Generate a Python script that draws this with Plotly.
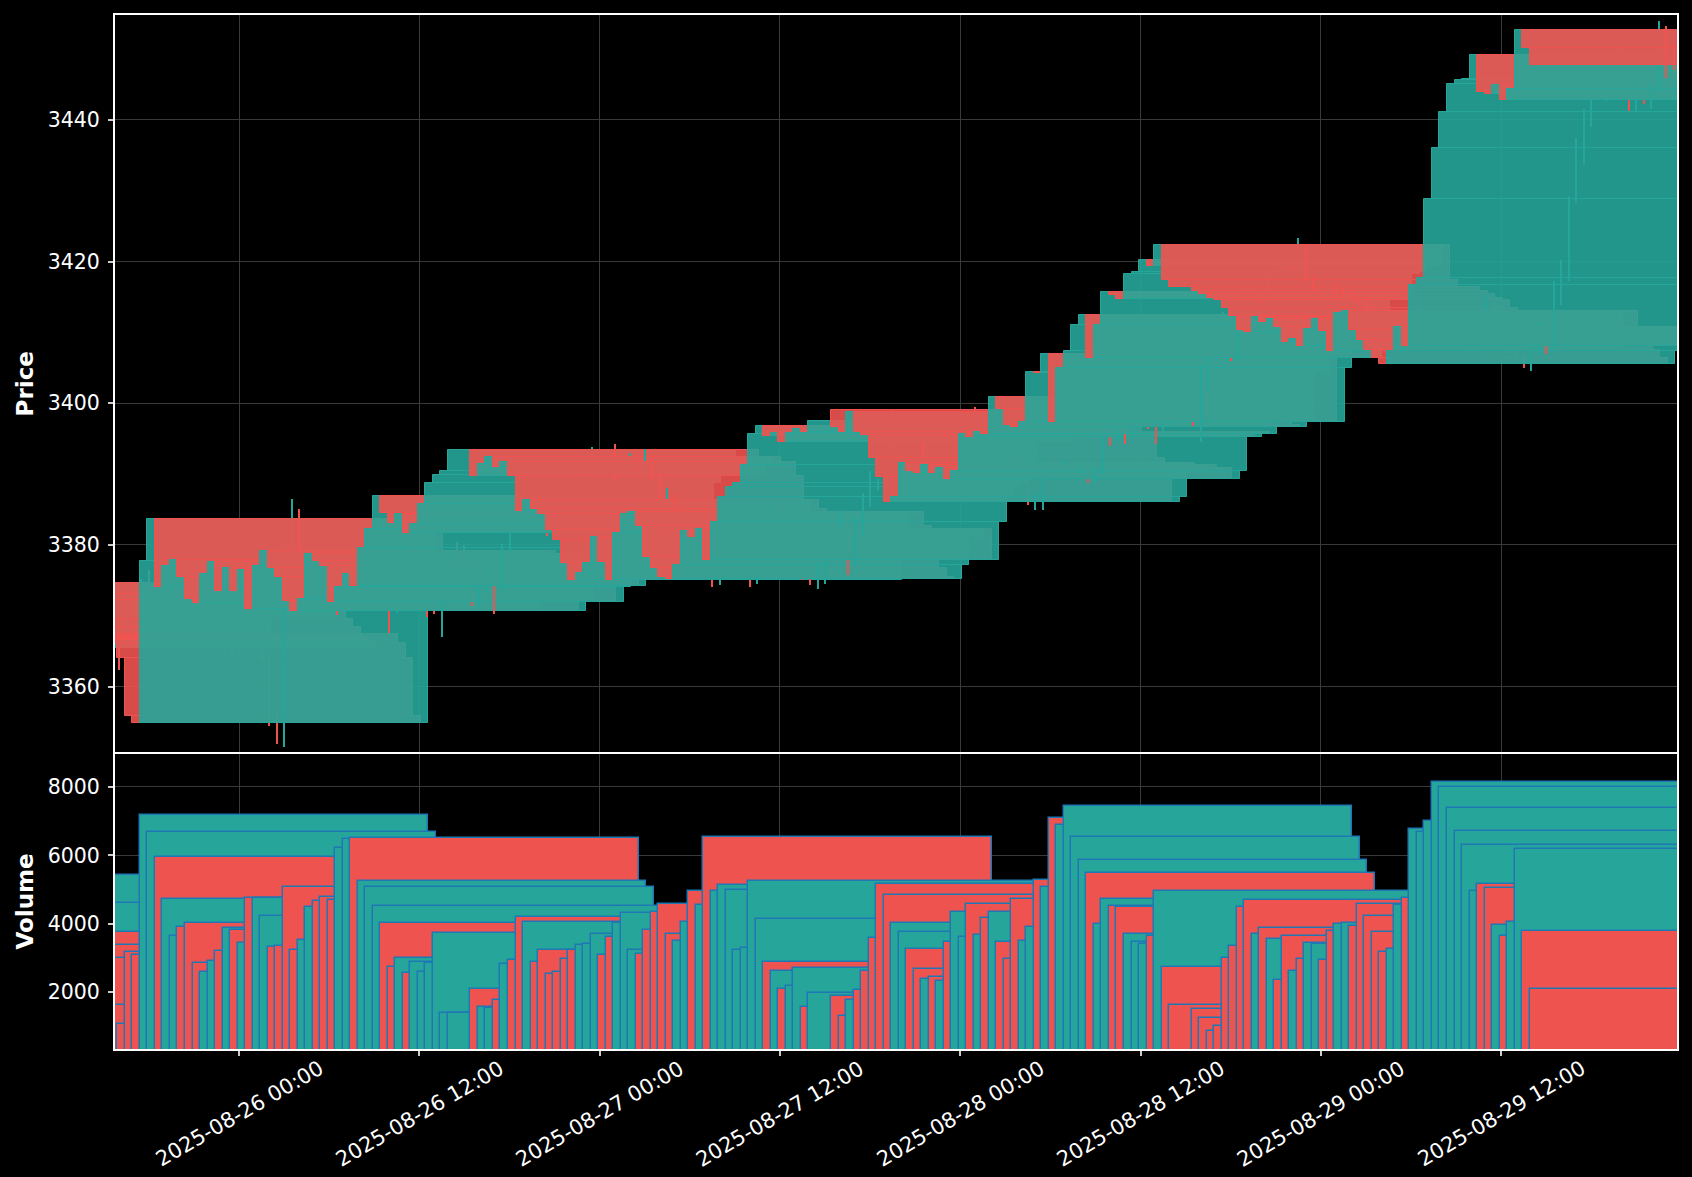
import pandas as pd
import plotly.graph_objects as go

# ---------------- data (30-minute XAUUSD candles) ----------------
sessions = [("2025-08-25 16:00", "2025-08-25 23:30"),
            ("2025-08-26 01:00", "2025-08-26 23:30"),
            ("2025-08-27 01:00", "2025-08-27 23:30"),
            ("2025-08-28 01:00", "2025-08-28 23:30"),
            ("2025-08-29 01:00", "2025-08-29 23:30")]

opens = [
    # 08-25
    3368.5, 3366.0, 3370.5, 3372.5, 3374.6, 3372.5, 3371.2, 3373.0, 3371.6, 3371.0, 3369.8, 3372.2, 3369.6, 3368.4, 3367.0, 3365.5,
    # 08-26
    3367.4, 3366.1, 3364.0, 3355.9, 3354.9, 3377.7, 3383.6, 3374.0, 3377.0, 3377.9, 3375.4, 3372.4, 3371.8, 3375.9, 3377.6, 3373.5,
    3376.8, 3373.5, 3376.5, 3371.0, 3377.0, 3379.2, 3376.8, 3375.4, 3372.1, 3370.7, 3372.3, 3378.7, 3377.7, 3377.0, 3371.9, 3374.0,
    3375.9, 3374.2, 3379.6, 3382.2, 3386.9, 3384.5, 3383.1, 3384.3, 3381.7, 3383.0, 3385.8, 3388.8, 3389.8, 3390.5,
    # 08-27
    3393.4, 3389.7, 3391.4, 3392.4, 3391.0, 3391.7, 3389.7, 3384.8, 3386.4, 3385.0, 3384.4, 3382.1, 3380.7, 3377.4, 3375.0, 3376.0,
    3377.5, 3381.1, 3377.6, 3375.0, 3381.7, 3384.4, 3384.7, 3382.7, 3378.3, 3376.7, 3375.5, 3375.2, 3377.1, 3381.9, 3381.1, 3382.2,
    3377.8, 3383.3, 3386.8, 3388.2, 3388.8, 3391.3, 3395.7, 3396.8, 3395.4, 3395.8, 3394.5, 3395.8, 3396.4, 3395.9,
    # 08-28
    3399.0, 3396.6, 3396.0, 3398.7, 3396.0, 3395.5, 3392.2, 3389.6, 3386.1, 3386.8, 3391.5, 3390.5, 3390.2, 3391.3, 3390.2, 3390.8,
    3389.3, 3390.5, 3395.6, 3395.2, 3396.0, 3395.7, 3400.9, 3399.2, 3396.9, 3396.6, 3397.3, 3404.4, 3404.2, 3407.0, 3397.3, 3404.9,
    3407.4, 3411.1, 3412.4, 3406.4, 3411.1, 3415.7, 3415.3, 3414.7, 3418.2, 3418.5, 3420.2, 3419.4, 3422.3, 3417.4,
    # 08-29
    3416.4, 3415.8, 3415.4, 3414.9, 3414.5, 3413.4, 3412.3, 3410.3, 3410.0, 3412.2, 3411.5, 3411.9, 3410.8, 3408.6, 3409.1, 3408.1,
    3410.5, 3411.9, 3410.2, 3407.3, 3412.7, 3413.0, 3410.3, 3408.9, 3407.5, 3406.4, 3405.6, 3407.3, 3410.8, 3408.1, 3416.7, 3417.7,
    3428.8, 3436.0, 3441.1, 3445.0, 3445.6, 3445.8, 3449.2, 3444.0, 3443.6, 3444.9, 3442.8, 3444.4, 3452.7, 3450.1,
]

highs = [
    3369.0, 3371.0, 3373.2, 3375.2, 3376.4, 3374.1, 3373.6, 3373.4, 3375.0, 3371.4, 3373.4, 3372.6, 3371.0, 3369.3, 3367.4, 3366.9,
    3367.8, 3366.5, 3364.4, 3356.5, 3380.3, 3386.5, 3385.0, 3377.6, 3379.0, 3378.4, 3375.8, 3373.0, 3376.3, 3379.0, 3379.2, 3377.3,
    3377.2, 3377.0, 3377.0, 3377.5, 3379.7, 3379.9, 3378.7, 3375.9, 3375.2, 3372.8, 3379.2, 3380.4, 3380.0, 3379.1, 3374.5, 3376.4,
    3376.4, 3380.1, 3383.6, 3387.4, 3387.5, 3385.0, 3384.8, 3384.8, 3383.5, 3386.3, 3389.3, 3391.0, 3391.0, 3393.8,
    3394.2, 3392.2, 3393.0, 3392.9, 3393.6, 3392.2, 3390.2, 3388.0, 3387.2, 3385.5, 3384.9, 3382.6, 3381.2, 3378.1, 3376.5, 3378.0,
    3381.6, 3381.6, 3378.1, 3382.2, 3384.9, 3385.2, 3385.6, 3383.7, 3378.8, 3377.2, 3376.0, 3377.6, 3382.4, 3383.0, 3384.9, 3382.7,
    3383.8, 3387.3, 3390.5, 3389.3, 3391.8, 3399.0, 3397.6, 3397.3, 3396.3, 3396.3, 3396.3, 3396.9, 3396.9, 3398.0,
    3399.5, 3397.1, 3399.2, 3399.2, 3396.5, 3396.0, 3392.7, 3389.8, 3387.3, 3392.0, 3392.0, 3391.0, 3391.8, 3391.8, 3391.3, 3391.3,
    3391.0, 3396.1, 3396.1, 3396.5, 3396.5, 3401.4, 3401.7, 3399.7, 3397.4, 3397.8, 3404.9, 3407.7, 3407.5, 3407.5, 3405.4, 3410.1,
    3411.6, 3412.9, 3412.9, 3411.6, 3416.2, 3416.2, 3415.8, 3418.7, 3419.0, 3420.7, 3420.7, 3423.3, 3422.4, 3417.9,
    3416.9, 3416.3, 3415.9, 3415.4, 3415.0, 3413.9, 3412.8, 3410.8, 3412.7, 3412.7, 3412.4, 3413.6, 3411.7, 3409.6, 3409.6, 3411.0,
    3412.4, 3412.4, 3412.7, 3413.2, 3415.0, 3414.3, 3410.8, 3409.4, 3408.9, 3406.9, 3407.8, 3411.3, 3411.1, 3417.2, 3420.2, 3429.3,
    3437.4, 3441.6, 3446.1, 3446.1, 3448.4, 3449.7, 3450.1, 3444.5, 3445.4, 3445.4, 3444.9, 3454.0, 3453.2, 3450.6,
]

lows = [
    3362.3, 3365.5, 3370.0, 3369.6, 3372.0, 3370.8, 3370.9, 3371.0, 3370.6, 3369.3, 3369.5, 3369.0, 3368.0, 3366.6, 3364.7, 3365.0,
    3365.6, 3363.5, 3354.4, 3351.9, 3351.5, 3377.0, 3373.3, 3373.2, 3376.4, 3375.0, 3371.9, 3370.1, 3370.5, 3375.4, 3373.0, 3373.0,
    3372.6, 3373.1, 3367.5, 3370.4, 3376.5, 3376.3, 3374.8, 3369.8, 3370.3, 3367.0, 3371.8, 3376.7, 3376.5, 3371.4, 3371.3, 3373.4,
    3370.3, 3373.7, 3379.0, 3381.7, 3384.0, 3382.6, 3382.6, 3381.2, 3381.2, 3382.5, 3385.3, 3388.0, 3389.4, 3390.0,
    3389.2, 3389.2, 3391.0, 3390.5, 3390.1, 3389.2, 3384.3, 3383.5, 3384.5, 3383.9, 3381.6, 3380.2, 3376.9, 3374.1, 3374.3, 3375.5,
    3377.0, 3377.1, 3374.1, 3374.5, 3381.2, 3383.9, 3382.2, 3377.8, 3376.2, 3375.0, 3374.3, 3373.8, 3374.5, 3379.9, 3380.9, 3375.7,
    3377.3, 3381.4, 3385.4, 3387.7, 3388.3, 3390.8, 3395.2, 3394.9, 3394.9, 3392.4, 3394.0, 3395.3, 3395.4, 3395.4,
    3396.1, 3395.5, 3395.5, 3395.5, 3395.0, 3391.7, 3389.1, 3385.6, 3384.9, 3384.9, 3390.0, 3389.7, 3389.7, 3389.7, 3389.7, 3388.8,
    3388.8, 3390.0, 3394.0, 3394.7, 3394.3, 3395.2, 3398.7, 3396.4, 3394.3, 3396.1, 3396.8, 3403.7, 3403.7, 3396.8, 3394.5, 3401.8,
    3406.9, 3410.6, 3405.9, 3405.9, 3410.6, 3414.8, 3414.2, 3414.2, 3417.7, 3418.0, 3418.9, 3418.9, 3416.9, 3415.9,
    3415.3, 3414.9, 3414.4, 3414.0, 3412.9, 3411.8, 3409.8, 3409.0, 3409.5, 3411.0, 3411.0, 3410.3, 3408.0, 3408.1, 3407.3, 3407.6,
    3410.0, 3408.0, 3406.8, 3406.8, 3411.2, 3409.8, 3408.4, 3407.0, 3405.9, 3404.9, 3404.5, 3406.8, 3406.9, 3407.6, 3413.8, 3417.2,
    3428.3, 3433.6, 3439.0, 3444.5, 3442.6, 3445.3, 3443.5, 3441.2, 3441.1, 3442.3, 3441.6, 3443.9, 3445.9, 3447.1,
]

closes = [
    3366.0, 3370.5, 3372.5, 3374.6, 3372.5, 3371.2, 3373.0, 3371.6, 3371.0, 3369.8, 3372.2, 3369.6, 3368.4, 3367.0, 3365.5, 3366.4,
    3366.1, 3364.0, 3355.9, 3354.9, 3377.7, 3383.6, 3374.0, 3377.0, 3377.9, 3375.4, 3372.4, 3371.8, 3375.9, 3377.6, 3373.5, 3376.8,
    3373.5, 3376.5, 3371.0, 3377.0, 3379.2, 3376.8, 3375.4, 3372.1, 3370.7, 3372.3, 3378.7, 3377.7, 3377.0, 3371.9, 3374.0, 3375.9,
    3374.2, 3379.6, 3382.2, 3386.9, 3384.5, 3383.1, 3384.3, 3381.7, 3383.0, 3385.8, 3388.8, 3389.8, 3390.5, 3393.4,
    3389.7, 3391.4, 3392.4, 3391.0, 3391.7, 3389.7, 3384.8, 3386.4, 3385.0, 3384.4, 3382.1, 3380.7, 3377.4, 3375.0, 3376.0, 3377.5,
    3381.1, 3377.6, 3375.0, 3381.7, 3384.4, 3384.7, 3382.7, 3378.3, 3376.7, 3375.5, 3375.2, 3377.1, 3381.9, 3381.1, 3382.2, 3377.8,
    3383.3, 3386.8, 3388.2, 3388.8, 3391.3, 3395.7, 3396.8, 3395.4, 3395.8, 3394.5, 3395.8, 3396.4, 3395.9, 3397.5,
    3396.6, 3396.0, 3398.7, 3396.0, 3395.5, 3392.2, 3389.6, 3386.1, 3386.8, 3391.5, 3390.5, 3390.2, 3391.3, 3390.2, 3390.8, 3389.3,
    3390.5, 3395.6, 3395.2, 3396.0, 3395.7, 3400.9, 3399.2, 3396.9, 3396.6, 3397.3, 3404.4, 3404.2, 3407.0, 3397.3, 3404.9, 3407.4,
    3411.1, 3412.4, 3406.4, 3411.1, 3415.7, 3415.3, 3414.7, 3418.2, 3418.5, 3420.2, 3419.4, 3422.3, 3417.4, 3416.4,
    3415.8, 3415.4, 3414.9, 3414.5, 3413.4, 3412.3, 3410.3, 3410.0, 3412.2, 3411.5, 3411.9, 3410.8, 3408.6, 3409.1, 3408.1, 3410.5,
    3411.9, 3410.2, 3407.3, 3412.7, 3413.0, 3410.3, 3408.9, 3407.5, 3406.4, 3405.6, 3407.3, 3410.8, 3408.1, 3416.7, 3417.7, 3428.8,
    3436.0, 3441.1, 3445.0, 3445.6, 3445.8, 3449.2, 3444.0, 3443.6, 3444.9, 3442.8, 3444.4, 3452.7, 3450.1, 3447.8,
]

volumes = [
    3200, 5429, 4100, 4600, 3768, 3100, 2900, 3378, 2600, 2400, 2300, 2987, 1550, 1500, 1400, 1200,
    1619, 1052, 3163, 3085, 7188, 6670, 5957, 4726, 3651, 3915, 4032, 2860, 2596, 2908, 3202, 3866,
    3817, 3446, 4765, 4765, 4237, 3329, 3358, 5087, 3241, 3534, 4501, 4677, 4785, 4687, 6201, 6485,
    6504, 5234, 5087, 4520, 4013, 2743, 3006, 2567, 2870, 2586, 2840, 3739, 1375, 1375,
    2088, 1570, 1521, 1765, 2830, 2948, 4198, 4061, 2889, 3231, 2537, 2596, 2977, 3231, 3378, 3407,
    3700, 3085, 3622, 4013, 4325, 3241, 3114, 3817, 4355, 4589, 3700, 3495, 4061, 4970, 4550, 6534,
    4970, 5136, 4999, 3241, 3300, 5234, 4130, 2879, 2625, 2088, 2186, 2713, 1560, 1980,
    1892, 1306, 1775, 2058, 2615, 3573, 5156, 4824, 4013, 3749, 3260, 2674, 2381, 2430, 2322, 3456,
    4355, 3612, 4570, 3671, 4179, 4355, 3466, 2967, 4726, 3495, 3905, 5283, 5087, 7100, 6895, 7452,
    6543, 5859, 5488, 3993, 4726, 4511, 4482, 3690, 3475, 3397, 3651, 4970, 2723, 1610,
    1500, 1251, 864, 1003, 3003, 3332, 4494, 4705, 3699, 3867, 3549, 2355, 3630, 2604, 2954, 3422,
    3390, 2933, 3789, 3997, 4029, 3919, 4566, 4237, 3769, 3162, 3272, 4535, 4746, 6775, 6685, 7014,
    8147, 7988, 7393, 6705, 6298, 4942, 5162, 5032, 3968, 3639, 4058, 6197, 3789, 2098,
]

x_ticks = ["2025-08-26 00:00", "2025-08-26 12:00", "2025-08-27 00:00", "2025-08-27 12:00",
           "2025-08-28 00:00", "2025-08-28 12:00", "2025-08-29 00:00", "2025-08-29 12:00"]
price_ticks = [3360, 3380, 3400, 3420, 3440]
volume_ticks = [2000, 4000, 6000, 8000]

# ---------------- styles ----------------
UP, DOWN = "#26a69a", "#ef5350"
UP_FILL, DOWN_FILL = "rgba(38,166,154,0.9)", "rgba(239,83,80,0.9)"
VOL_EDGE = "#1f77b4"
DAY_MS = 86400000
BODY_W = 0.8 * DAY_MS          # bar width of 0.8 days
WICK_W = 480000                 # ~2 px
FONT = "DejaVu Sans"

times = []
for s, e in sessions:
    times += list(pd.date_range(s, e, freq="30min"))
times = [t.strftime("%Y-%m-%d %H:%M") for t in times]
n = len(times)
assert n == len(opens) == len(highs) == len(lows) == len(closes) == len(volumes)

# interleave wick + body per candle so later candles paint over earlier ones
px, pbase, py, pw, pcol, plcol, plw = [], [], [], [], [], [], []
vcol = []
for i in range(n):
    up = closes[i] >= opens[i]
    c = UP if up else DOWN
    f = UP_FILL if up else DOWN_FILL
    vcol.append(c)
    # wick
    px.append(times[i]); pbase.append(lows[i]); py.append(highs[i] - lows[i])
    pw.append(WICK_W); pcol.append(c); plcol.append(c); plw.append(0)
    # body
    lo, hi = min(opens[i], closes[i]), max(opens[i], closes[i])
    px.append(times[i]); pbase.append(lo); py.append(max(hi - lo, 0.05))
    pw.append(BODY_W); pcol.append(f); plcol.append(c); plw.append(1)

fig = go.Figure()
fig.add_trace(go.Bar(x=px, y=py, base=pbase, width=pw,
                     marker=dict(color=pcol, line=dict(color=plcol, width=plw)),
                     xaxis="x", yaxis="y", showlegend=False, hoverinfo="skip"))
fig.add_trace(go.Bar(x=times, y=volumes, width=BODY_W,
                     marker=dict(color=vcol, line=dict(color=VOL_EDGE, width=1.5)),
                     xaxis="x2", yaxis="y2", showlegend=False, hoverinfo="skip"))

GRID = "#3a3a3a"
xrange_ = ["2025-08-25 15:44:30", "2025-08-29 23:42:30"]
axis_common = dict(showgrid=True, gridcolor=GRID, gridwidth=1, zeroline=False,
                   showline=True, linecolor="white", linewidth=2, mirror=True)

fig.update_layout(
    width=1692, height=1177,
    paper_bgcolor="black", plot_bgcolor="black",
    margin=dict(l=115, r=15, t=15, b=128),
    barmode="overlay", bargap=0,
    font=dict(family=FONT, color="white"),
    xaxis=dict(domain=[0, 1], anchor="y", type="date", range=xrange_,
               tickmode="array", tickvals=x_ticks, showticklabels=False, ticks="",
               **axis_common),
    xaxis2=dict(domain=[0, 1], anchor="y2", type="date", range=xrange_, matches="x",
                tickmode="array", tickvals=x_ticks, showticklabels=False,
                ticks="outside", ticklen=5, tickwidth=1.5, tickcolor="#cccccc",
                **axis_common),
    yaxis=dict(domain=[0.2868, 1], anchor="x", range=[3350.7, 3454.8],
               tickmode="array", tickvals=price_ticks,
               ticks="outside", ticklen=5, tickwidth=1.5, tickcolor="#cccccc",
               tickfont=dict(family=FONT, size=20.5, color="white"), ticklabelstandoff=4,
               title=dict(text="Price", standoff=8,
                          font=dict(family=FONT, size=23, color="white", weight="bold")),
               automargin=False, **axis_common),
    yaxis2=dict(domain=[0, 0.2853], anchor="x2", range=[330, 8966],
                tickmode="array", tickvals=volume_ticks,
                ticks="outside", ticklen=5, tickwidth=1.5, tickcolor="#cccccc",
                tickfont=dict(family=FONT, size=20.5, color="white"), ticklabelstandoff=4,
                title=dict(text="Volume", standoff=8,
                           font=dict(family=FONT, size=23, color="white", weight="bold")),
                automargin=False, **axis_common),
)

# rotated date labels centred under each tick (matplotlib-style)
for t in x_ticks:
    fig.add_annotation(x=t, xref="x2", y=-0.0625, yref="paper", text=t,
                       textangle=-30, showarrow=False, xanchor="center", yanchor="middle",
                       font=dict(family=FONT, size=21, color="white"))

fig.write_html("out.html")
